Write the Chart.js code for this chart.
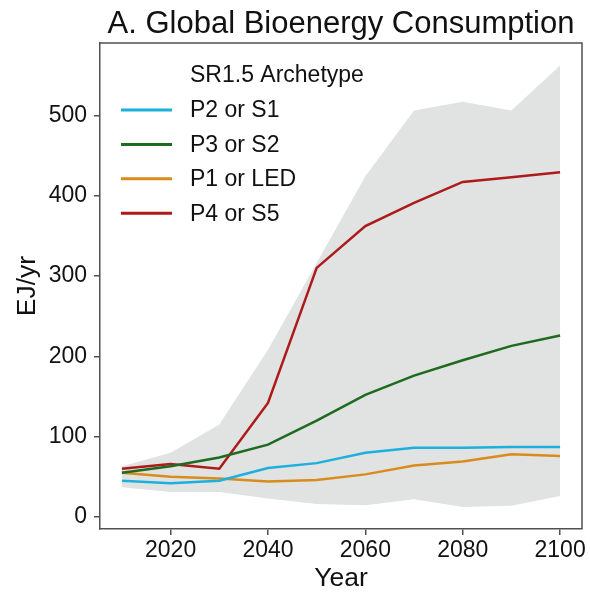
<!DOCTYPE html>
<html>
<head>
<meta charset="utf-8">
<script src="https://cdn.jsdelivr.net/npm/chart.js@4.4.1/dist/chart.umd.min.js"></script>
<style>
    body { margin: 0; background: #fff; }
    #graficoBioenergia { display: block; }
</style>
</head>
<body>
<canvas id="graficoBioenergia" width="590" height="592"></canvas>
<script>
// datos (EJ/yr)
const anios = [2010, 2020, 2030, 2040, 2050, 2060, 2070, 2080, 2090, 2100];
const p2oS1 = [45, 42, 45, 61, 67, 80, 86, 86, 87, 87];
const p3oS2 = [55, 63, 74, 90, 120, 152, 176, 195, 213, 226];
const p1oLED = [55, 50, 48, 44, 46, 53, 64, 69, 78, 76];
const p4oS5 = [60, 66, 60, 142, 310, 362, 391, 417, 423, 429];
const rangoMin = [37, 31, 31, 23, 16, 14.5, 22, 12.5, 14, 26];
const rangoMax = [63, 80, 115, 208, 316, 424, 506, 517, 506, 562];
const ticksX = [2020, 2040, 2060, 2080, 2100];
const ticksY = [0, 100, 200, 300, 400, 500];

const fuente = "'Liberation Sans', Arial, sans-serif";
const colorTexto = '#111111';
const colorMarco = '#505050';

function puntos(valores) {
    return anios.map((a, i) => ({ x: a, y: valores[i] }));
}

const series = [
    { label: 'P2 or S1', data: p2oS1, color: '#1cb0dc' },
    { label: 'P3 or S2', data: p3oS2, color: '#1e6a1e' },
    { label: 'P1 or LED', data: p1oLED, color: '#d98c1c' },
    { label: 'P4 or S5', data: p4oS5, color: '#ac1a1a' }
];

const datasets = series.map(s => ({
    label: s.label,
    data: puntos(s.data),
    borderColor: s.color,
    borderWidth: 2.5,
    pointRadius: 0,
    fill: false,
    tension: 0
}));

// banda gris min / max
datasets.push({
    label: 'min',
    data: puntos(rangoMin),
    borderWidth: 0,
    borderColor: 'rgba(0,0,0,0)',
    pointRadius: 0,
    fill: false
});
datasets.push({
    label: 'max',
    data: puntos(rangoMax),
    borderWidth: 0,
    borderColor: 'rgba(0,0,0,0)',
    backgroundColor: '#e1e2e2',
    pointRadius: 0,
    fill: '-1'
});

const marcoYTitulo = {
    id: 'marcoYTitulo',
    afterDraw(chart) {
        const { ctx, chartArea } = chart;
        ctx.save();
        ctx.strokeStyle = colorMarco;
        ctx.lineWidth = 1.5;
        ctx.beginPath();
        ctx.moveTo(chartArea.left, chartArea.top);
        ctx.lineTo(chartArea.right, chartArea.top);
        ctx.lineTo(chartArea.right, chartArea.bottom);
        ctx.stroke();

        ctx.fillStyle = colorTexto;
        ctx.font = '31px ' + fuente;
        ctx.textAlign = 'center';
        ctx.textBaseline = 'alphabetic';
        ctx.fillText('A. Global Bioenergy Consumption', (chartArea.left + chartArea.right) / 2, 33);
        ctx.restore();
    }
};

const leyenda = {
    id: 'leyenda',
    afterDatasetsDraw(chart) {
        const { ctx } = chart;
        ctx.save();
        ctx.font = '23px ' + fuente;
        ctx.fillStyle = colorTexto;
        ctx.textAlign = 'left';
        ctx.textBaseline = 'middle';
        ctx.fillText('SR1.5 Archetype', 190, 76);
        series.forEach((s, i) => {
            const y = 110 + i * 34.4;
            ctx.strokeStyle = s.color;
            ctx.lineWidth = 3;
            ctx.beginPath();
            ctx.moveTo(121, y);
            ctx.lineTo(172, y);
            ctx.stroke();
            ctx.fillText(s.label, 190, y + 1);
        });
        ctx.restore();
    }
};

const ctx = document.getElementById('graficoBioenergia').getContext('2d');
new Chart(ctx, {
    type: 'line',
    data: { datasets: datasets },
    options: {
        responsive: false,
        animation: false,
        devicePixelRatio: 1,
        layout: { padding: { top: 43, right: 8, left: 0, bottom: 0 } },
        plugins: {
            legend: { display: false },
            tooltip: { enabled: false },
            title: { display: false }
        },
        scales: {
            x: {
                type: 'linear',
                min: 2005.5,
                max: 2104.5,
                afterBuildTicks: scale => { scale.ticks = ticksX.map(v => ({ value: v })); },
                afterFit: scale => { scale.height = 63; },
                ticks: {
                    color: colorTexto,
                    font: { family: fuente, size: 23 },
                    padding: 2,
                    maxRotation: 0,
                    callback: v => String(v)
                },
                grid: { drawOnChartArea: false, drawTicks: true, tickLength: 6, color: colorMarco, lineWidth: 1.5 },
                border: { display: true, color: colorMarco, width: 1.5 },
                title: {
                    display: true,
                    text: 'Year',
                    color: colorTexto,
                    font: { family: fuente, size: 26.5, lineHeight: 1 },
                    padding: { top: 0, bottom: 0 }
                }
            },
            y: {
                type: 'linear',
                min: -15,
                max: 590,
                afterBuildTicks: scale => { scale.ticks = ticksY.map(v => ({ value: v })); },
                afterFit: scale => { scale.width = 100; },
                ticks: {
                    color: colorTexto,
                    font: { family: fuente, size: 23 },
                    padding: 7
                },
                grid: { drawOnChartArea: false, drawTicks: true, tickLength: 6, color: colorMarco, lineWidth: 1.5 },
                border: { display: true, color: colorMarco, width: 1.5 },
                title: {
                    display: true,
                    text: 'EJ/yr',
                    color: colorTexto,
                    font: { family: fuente, size: 26.5, lineHeight: 1 },
                    padding: { top: 14, bottom: 0 }
                }
            }
        }
    },
    plugins: [marcoYTitulo, leyenda]
});
</script>
</body>
</html>
